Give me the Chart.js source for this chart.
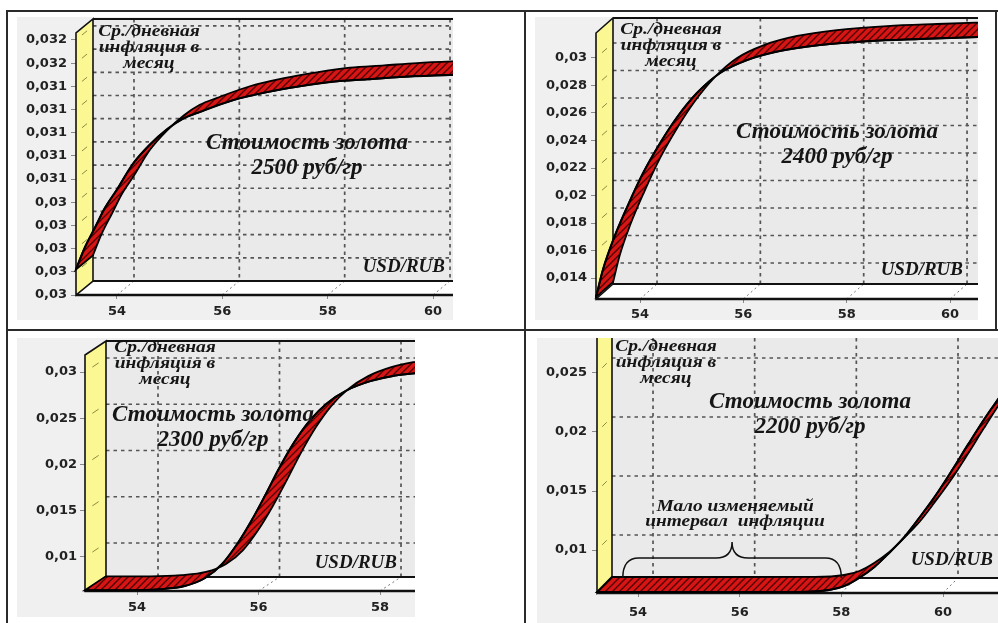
<!DOCTYPE html>
<html>
<head>
<meta charset="utf-8">
<script src="https://cdn.jsdelivr.net/npm/chart.js@4.4.1/dist/chart.umd.min.js"></script>
<style>
    body { margin: 0; background: #fff; }
    #wrap { position: relative; width: 998px; height: 623px; overflow: hidden; background: #fff; }
    #wrap canvas { position: absolute; background: #f0f0f0; }
    .ln { position: absolute; background: #2b2b2b; }
</style>
</head>
<body>
<div id="wrap">
    <canvas id="c2500"></canvas>
    <canvas id="c2400"></canvas>
    <canvas id="c2300"></canvas>
    <canvas id="c2200"></canvas>
    <div class="ln" style="left:7px;top:10px;width:991px;height:2px"></div>
    <div class="ln" style="left:6px;top:10px;width:2px;height:613px"></div>
    <div class="ln" style="left:524px;top:10px;width:2px;height:613px"></div>
    <div class="ln" style="left:995px;top:10px;width:2px;height:320px"></div>
    <div class="ln" style="left:7px;top:329px;width:991px;height:2px"></div>
</div>
<script>
// курс USD/RUB и среднедневная инфляция (по картинке)
var xTicks2500 = [54, 56, 58, 60];
var yTicks2500 = [0.0296, 0.0298, 0.0300, 0.0302, 0.0304, 0.0306, 0.0308, 0.0310, 0.0312, 0.0314, 0.0316, 0.0318];
var usdRub2500 = [53.22, 53.39, 53.58, 53.77, 54.0, 54.3, 54.63, 54.95, 55.25, 55.58, 56.2, 56.85, 57.47, 58.1, 58.75, 59.37, 60.38];
var infl2500 = [0.02982, 0.03001, 0.03018, 0.03035, 0.03051, 0.03073, 0.0309, 0.03103, 0.03112, 0.03118, 0.03128, 0.03135, 0.0314, 0.03144, 0.03146, 0.03148, 0.0315];

var xTicks2400 = [54, 56, 58, 60];
var yTicks2400 = [0.014, 0.016, 0.018, 0.02, 0.022, 0.024, 0.026, 0.028, 0.03];
var usdRub2400 = [53.15, 53.28, 53.48, 53.75, 54.06, 54.39, 54.72, 55.1, 55.55, 56.07, 56.71, 57.48, 58.45, 59.42, 60.54];
var infl2400 = [0.01262, 0.01458, 0.01676, 0.01916, 0.02164, 0.02382, 0.02571, 0.02745, 0.02891, 0.02985, 0.03051, 0.03094, 0.03123, 0.03138, 0.03152];

var xTicks2300 = [54, 56, 58];
var yTicks2300 = [0.01, 0.015, 0.02, 0.025, 0.03];
var usdRub2300 = [53.14, 53.88, 54.38, 54.79, 55.12, 55.4, 55.66, 55.89, 56.12, 56.35, 56.6, 56.85, 57.13, 57.46, 57.84, 58.2, 58.58];
var infl2300 = [0.0064, 0.0064, 0.00652, 0.00687, 0.00773, 0.00924, 0.01151, 0.014, 0.0168, 0.01972, 0.02253, 0.0248, 0.02663, 0.02804, 0.02901, 0.02955, 0.02987];

var xTicks2200 = [54, 56, 58, 60];
var yTicks2200 = [0.01, 0.015, 0.02, 0.025];
var usdRub2200 = [53.19, 55.22, 57.18, 57.76, 58.06, 58.35, 58.65, 58.94, 59.24, 59.53, 59.86, 60.18, 60.51, 60.84, 61.1];
var infl2200 = [0.00644, 0.00644, 0.00645, 0.00661, 0.00695, 0.00763, 0.00856, 0.00975, 0.0111, 0.01271, 0.01466, 0.01678, 0.01906, 0.02127, 0.02288];

var axisTitle = ['Ср./дневная', 'инфляция в', 'месяц'];
var priceTitle = 'Стоимость золота';
var unitTitle = 'USD/RUB';
var flatNote = ['Мало изменяемый', 'интервал  инфляции'];

var panels = [
    { id: 'c2500', box: [17, 17, 436, 303], axisW: 59, padTop: 16, axisH: 25, depth: [17, -14],
      xMin: 53.222, xMax: 60.379, yMin: 0.0296, yMax: 0.03186, xPad: 5, yPad: 4,
      xs: usdRub2500, ys: infl2500, xTicks: xTicks2500, yTicks: yTicks2500,
      price: '2500 руб/гр', titleAt: [290, 126], unitAt: [428, 250], axisAt: [132, 15] },
    { id: 'c2400', box: [535, 17, 443, 303], axisW: 61, padTop: 16, axisH: 21, depth: [17, -15],
      xMin: 53.148, xMax: 60.541, yMin: 0.012473, yMax: 0.031818, xPad: 4, yPad: 4,
      xs: usdRub2400, ys: infl2400, xTicks: xTicks2400, yTicks: yTicks2400,
      price: '2400 руб/гр', titleAt: [302, 115], unitAt: [428, 253], axisAt: [136, 13] },
    { id: 'c2300', box: [17, 338, 398, 279], axisW: 68, padTop: 17, axisH: 26, depth: [21, -14],
      xMin: 53.144, xMax: 58.576, yMin: 0.006324, yMax: 0.031838, xPad: 5, yPad: 3,
      xs: usdRub2300, ys: infl2300, xTicks: xTicks2300, yTicks: yTicks2300,
      price: '2300 руб/гр', titleAt: [196, 77], unitAt: [380, 225], axisAt: [148, 10] },
    { id: 'c2200', box: [537, 338, 461, 285], axisW: 60, padTop: 0, axisH: 30, depth: [15, -15],
      xMin: 53.193, xMax: 61.082, yMin: 0.006356, yMax: 0.027966, xPad: 8, yPad: 5,
      xs: usdRub2200, ys: infl2200, xTicks: xTicks2200, yTicks: yTicks2200,
      price: '2200 руб/гр', titleAt: [273, 64], unitAt: [456, 222], axisAt: [129, 9], note: true }
];

function hatch() {
    var c = document.createElement('canvas');
    c.width = 7; c.height = 7;
    var g = c.getContext('2d');
    g.fillStyle = '#d71515';
    g.fillRect(0, 0, 7, 7);
    g.strokeStyle = '#4d0000';
    g.lineWidth = 1.3;
    g.beginPath();
    g.moveTo(-1, 8); g.lineTo(8, -1);
    g.moveTo(-1, 1); g.lineTo(1, -1);
    g.moveTo(6, 8); g.lineTo(8, 6);
    g.stroke();
    return c;
}

function fmt(v) {
    return v.toFixed(3).replace(/0+$/, '').replace('.', ',');
}

// текст, растянутый по горизонтали
function wideText(ctx, txt, x, y, k) {
    ctx.save();
    ctx.translate(x, y);
    ctx.scale(k, 1);
    ctx.fillText(txt, 0, 0);
    ctx.restore();
}

function makeDepth(p) {
    return {
        id: 'depth',
        beforeDatasetsDraw: function (chart) {
            var ctx = chart.ctx, a = chart.chartArea;
            var sx = chart.scales.x, sy = chart.scales.y;
            var dx = p.depth[0], dy = p.depth[1];
            var L = a.left, R = a.right, T = a.top, B = a.bottom;
            ctx.save();
            // задняя стенка
            ctx.fillStyle = '#eaeaea';
            ctx.fillRect(L + dx, T + dy, R - L - dx, B - T);
            ctx.strokeStyle = '#555';
            ctx.lineWidth = 1.7;
            ctx.setLineDash([3.5, 4]);
            ctx.beginPath();
            p.yTicks.forEach(function (v) {
                var y = sy.getPixelForValue(v) + dy;
                if (y < B + dy - 3) { ctx.moveTo(L + dx, y); ctx.lineTo(R, y); }
            });
            p.xTicks.forEach(function (v) {
                var x = sx.getPixelForValue(v) + dx;
                ctx.moveTo(x, T + dy); ctx.lineTo(x, B + dy);
            });
            ctx.stroke();
            // пол
            ctx.setLineDash([]);
            ctx.fillStyle = '#fff';
            ctx.beginPath();
            ctx.moveTo(L, B); ctx.lineTo(R + 40, B); ctx.lineTo(R + 40, B + dy); ctx.lineTo(L + dx, B + dy);
            ctx.closePath(); ctx.fill();
            ctx.strokeStyle = '#777';
            ctx.lineWidth = 1;
            ctx.setLineDash([2, 3]);
            ctx.beginPath();
            p.xTicks.forEach(function (v) {
                var x = sx.getPixelForValue(v);
                ctx.moveTo(x, B); ctx.lineTo(x + dx, B + dy);
            });
            ctx.stroke();
            // боковая стенка
            ctx.setLineDash([]);
            ctx.fillStyle = '#fbf894';
            ctx.beginPath();
            ctx.moveTo(L, B); ctx.lineTo(L, T); ctx.lineTo(L + dx, T + dy); ctx.lineTo(L + dx, B + dy);
            ctx.closePath(); ctx.fill();
            ctx.strokeStyle = '#111'; ctx.lineWidth = 1.6; ctx.stroke();
            ctx.strokeStyle = '#8c8a40'; ctx.lineWidth = 1;
            ctx.beginPath();
            p.yTicks.forEach(function (v) {
                var y = sy.getPixelForValue(v);
                if (y < B - 3) { ctx.moveTo(L + dx * 0.35, y + dy * 0.35); ctx.lineTo(L + dx * 0.65, y + dy * 0.65); }
            });
            ctx.stroke();
            ctx.strokeStyle = '#111';
            ctx.lineWidth = 2;
            ctx.beginPath();
            ctx.moveTo(L + dx, T + dy); ctx.lineTo(R, T + dy);
            ctx.moveTo(L + dx, B + dy); ctx.lineTo(R, B + dy);
            ctx.stroke();
            ctx.lineWidth = 2.6;
            ctx.beginPath();
            ctx.moveTo(L, B); ctx.lineTo(R, B);
            ctx.stroke();

            // лента графика
            var meta = chart.getDatasetMeta(0);
            meta.dataset.updateControlPoints(a, 'x');
            var pts = meta.data, n = pts.length, i;
            ctx.beginPath();
            ctx.moveTo(pts[0].x, pts[0].y);
            for (i = 1; i < n; i++) {
                ctx.bezierCurveTo(pts[i - 1].cp2x, pts[i - 1].cp2y, pts[i].cp1x, pts[i].cp1y, pts[i].x, pts[i].y);
            }
            ctx.lineTo(pts[n - 1].x + dx, pts[n - 1].y + dy);
            for (i = n - 1; i > 0; i--) {
                ctx.bezierCurveTo(pts[i].cp1x + dx, pts[i].cp1y + dy, pts[i - 1].cp2x + dx, pts[i - 1].cp2y + dy, pts[i - 1].x + dx, pts[i - 1].y + dy);
            }
            ctx.closePath();
            ctx.fillStyle = ctx.createPattern(hatch(), 'repeat');
            ctx.fill();
            ctx.strokeStyle = '#000';
            ctx.lineWidth = 1.8;
            ctx.stroke();
            ctx.restore();
        },
        afterDraw: function (chart) {
            var ctx = chart.ctx;
            ctx.save();
            ctx.fillStyle = '#151515';
            ctx.textAlign = 'center';
            ctx.textBaseline = 'middle';
            ctx.font = "bold italic 16px 'Liberation Serif'";
            axisTitle.forEach(function (t, k) {
                wideText(ctx, t, p.axisAt[0], p.axisAt[1] + k * 16, 1.22);
            });
            ctx.font = "bold italic 24px 'Liberation Serif'";
            wideText(ctx, priceTitle, p.titleAt[0], p.titleAt[1], 0.96);
            wideText(ctx, p.price, p.titleAt[0], p.titleAt[1] + 25, 0.96);
            ctx.textAlign = 'right';
            ctx.font = "bold italic 19px 'Liberation Serif'";
            ctx.fillText(unitTitle, p.unitAt[0], p.unitAt[1]);
            if (p.note) {
                var sx = chart.scales.x, a = chart.chartArea;
                var x0 = sx.getPixelForValue(53.7), x1 = sx.getPixelForValue(58.0), xm = (x0 + x1) / 2;
                var yb = a.bottom + p.depth[1], ym = yb - 20, yt = ym - 16;
                ctx.textAlign = 'center';
                ctx.font = "bold italic 17px 'Liberation Serif'";
                wideText(ctx, flatNote[0], xm + 3, yt - 35, 1.14);
                wideText(ctx, flatNote[1], xm + 3, yt - 20, 1.14);
                ctx.strokeStyle = '#111';
                ctx.lineWidth = 1.5;
                ctx.beginPath();
                ctx.moveTo(x0, yb);
                ctx.quadraticCurveTo(x0, ym, x0 + 16, ym);
                ctx.lineTo(xm - 16, ym);
                ctx.quadraticCurveTo(xm, ym, xm, yt);
                ctx.quadraticCurveTo(xm, ym, xm + 16, ym);
                ctx.lineTo(x1 - 16, ym);
                ctx.quadraticCurveTo(x1, ym, x1, yb);
                ctx.stroke();
            }
            ctx.restore();
        }
    };
}

panels.forEach(function (p) {
    var el = document.getElementById(p.id);
    el.width = p.box[2];
    el.height = p.box[3];
    el.style.left = p.box[0] + 'px';
    el.style.top = p.box[1] + 'px';
    var tickFont = { family: 'DejaVu Sans', weight: 'bold', size: 13 };
    new Chart(el, {
        type: 'line',
        data: {
            datasets: [{
                data: p.xs.map(function (x, i) { return { x: x, y: p.ys[i] }; }),
                borderColor: '#000',
                borderWidth: 2,
                pointRadius: 0,
                cubicInterpolationMode: 'monotone',
                clip: false
            }]
        },
        options: {
            responsive: false,
            animation: false,
            devicePixelRatio: 1,
            layout: { padding: { left: 0, right: 0, top: p.padTop, bottom: 0 } },
            plugins: { legend: { display: false }, tooltip: { enabled: false } },
            scales: {
                x: {
                    type: 'linear',
                    min: p.xMin,
                    max: p.xMax,
                    afterBuildTicks: function (s) { s.ticks = p.xTicks.map(function (v) { return { value: v }; }); },
                    afterFit: function (s) { s.height = p.axisH; s.paddingLeft = 0; s.paddingRight = 0; },
                    grid: { drawOnChartArea: false, tickLength: 4, color: '#8a8a8a' },
                    border: { display: false },
                    ticks: { padding: p.xPad, font: tickFont, color: '#222', maxRotation: 0, callback: function (v) { return v; } }
                },
                y: {
                    type: 'linear',
                    min: p.yMin,
                    max: p.yMax,
                    afterBuildTicks: function (s) { s.ticks = p.yTicks.map(function (v) { return { value: v }; }); },
                    afterFit: function (s) { s.width = p.axisW; s.paddingTop = 0; s.paddingBottom = 0; },
                    grid: { drawOnChartArea: false, tickLength: 5, color: '#8a8a8a' },
                    border: { display: false },
                    ticks: { padding: p.yPad, font: tickFont, color: '#222', callback: fmt }
                }
            }
        },
        plugins: [makeDepth(p)]
    });
});
</script>
</body>
</html>
